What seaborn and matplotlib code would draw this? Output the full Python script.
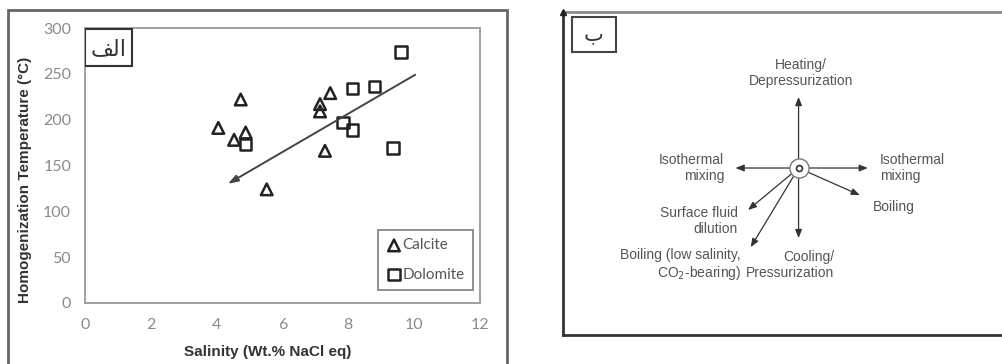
import matplotlib
matplotlib.use("Agg")
import matplotlib.pyplot as plt
import seaborn as sns
import pandas as pd
from matplotlib.patches import Rectangle

# ---------------- data ----------------
calcite_x = [4.05, 4.73, 4.53, 4.88, 5.52, 7.14, 7.14, 7.45, 7.29]
calcite_y = [191, 222, 178, 186, 124, 217, 209, 229, 166]
dolomite_x = [4.88, 7.83, 8.13, 8.13, 8.79, 9.35, 9.60]
dolomite_y = [173, 197, 189, 234, 236, 169, 274]
trend_start = (10.03, 249)
trend_end = (4.34, 130)
x_ticks = [0, 2, 4, 6, 8, 10, 12]
y_ticks = [0, 50, 100, 150, 200, 250, 300]

# conceptual diagram (panel b), unitless 0..1 space
center = (0.527, 0.517)
proc_labels = ["Heating/\nDepressurization", "Cooling/\nPressurization",
               "Isothermal\nmixing", "Isothermal\nmixing", "Boiling",
               "Surface fluid\ndilution", "Boiling (low salinity,\nCO$_2$-bearing)"]
proc_tip_x = [0.527, 0.527, 0.386, 0.682, 0.664, 0.414, 0.420]
proc_tip_y = [0.737, 0.300, 0.517, 0.517, 0.433, 0.387, 0.272]
proc_text_x = [0.532, 0.607, 0.361, 0.709, 0.693, 0.391, 0.398]
proc_text_y = [0.811, 0.217, 0.517, 0.517, 0.396, 0.353, 0.217]
proc_ha = ["center", "right", "right", "left", "left", "right", "right"]

panel_a_label = "\uFED2\uFEDF\uFE8D"   # "الف" (visual order, presentation forms)
panel_b_label = "ب"
xlabel = "Salinity (Wt.% NaCl eq)"
ylabel = "Homogenization Temperature (°C)"

# ---------------- style ----------------
sns.set_style("white")
plt.rcParams['font.family'] = ['Liberation Sans', 'DejaVu Sans']

W, H = 1003, 364
fig = plt.figure(figsize=(W / 100, H / 100), dpi=100)

def ax_rect(x0, y0, x1, y1):
    return [x0 / W, 1 - y1 / H, (x1 - x0) / W, (y1 - y0) / H]

# outer frame of panel a
fig.patches.append(Rectangle((8 / W, -0.05), (507 - 8) / W, 1.05 - 10 / H,
                             transform=fig.transFigure, fill=False,
                             edgecolor="#666666", lw=2.0))

# ---------------- panel a ----------------
ax = fig.add_axes(ax_rect(85, 28, 480, 303))
df_c = pd.DataFrame({"x": calcite_x, "y": calcite_y})
df_d = pd.DataFrame({"x": dolomite_x, "y": dolomite_y})
sns.scatterplot(data=df_c, x="x", y="y", ax=ax, marker="^", s=70,
                facecolor="none", edgecolor="#222222", linewidth=1.8,
                label="Calcite", zorder=3)
sns.scatterplot(data=df_d, x="x", y="y", ax=ax, marker="s", s=70,
                facecolor="none", edgecolor="#222222", linewidth=1.8,
                label="Dolomite", zorder=3)
ax.annotate("", xy=trend_end, xytext=trend_start,
            arrowprops=dict(arrowstyle="-|>,head_length=0.6,head_width=0.2",
                            color="#444444", lw=1.4, shrinkA=0, shrinkB=0))
ax.set_xlim(0, 12)
ax.set_ylim(0, 300)
ax.set_xticks(x_ticks)
ax.set_yticks(y_ticks)
ax.tick_params(axis="both", direction="inout", length=4, width=1,
               color="#999999", labelcolor="#8a8a8a", labelsize=11.5)
for lab in ax.get_xticklabels() + ax.get_yticklabels():
    lab.set_family("Lato")
ax.tick_params(axis="x", pad=9)
ax.tick_params(axis="y", pad=8)
for s in ax.spines.values():
    s.set_color("#a0a0a0")
    s.set_linewidth(1.4)
ax.set_xlabel(xlabel, fontsize=11, fontweight="bold", color="#333333")
ax.set_ylabel(ylabel, fontsize=11, fontweight="bold", color="#333333")
ax.xaxis.set_label_coords(0.463, -0.153)
ax.yaxis.set_label_coords(-0.134, 0.447)
leg = ax.legend(loc="lower right", bbox_to_anchor=(0.982, 0.047),
                frameon=True, fancybox=False, framealpha=1,
                edgecolor="#888888", fontsize=11, handletextpad=0.05,
                borderpad=0.55, labelspacing=1.0, handlelength=1.0,
                markerscale=1.0, borderaxespad=0)
leg.get_frame().set_linewidth(1.3)
for t in leg.get_texts():
    t.set_color("#555555")
    t.set_family("Lato")

ax.add_patch(Rectangle((0.0, 0.862), 0.119, 0.134, transform=ax.transAxes,
                       fill=False, edgecolor="#333333", lw=1.5, zorder=4))
ax.text(0.060, 0.925, panel_a_label, transform=ax.transAxes, ha="center",
        va="center", fontsize=16, color="#333333", family=["DejaVu Sans"])

# ---------------- panel b ----------------
bx = fig.add_axes(ax_rect(563, 12, 1010, 335))
bx.set_xlim(0, 1)
bx.set_ylim(0, 1)
bx.set_xticks([])
bx.set_yticks([])
for k in ["left", "bottom"]:
    bx.spines[k].set_color("#333333")
    bx.spines[k].set_linewidth(2.0)
bx.spines["top"].set_color("#8a8a8a")
bx.spines["top"].set_linewidth(2.0)
bx.spines["right"].set_visible(False)
bx.plot([0], [1.0], marker="^", color="#222222", markersize=5,
        clip_on=False, zorder=5)

for lab, tx, ty, px, py, ha in zip(proc_labels, proc_tip_x, proc_tip_y,
                                   proc_text_x, proc_text_y, proc_ha):
    bx.annotate("", xy=(tx, ty), xytext=center,
                arrowprops=dict(arrowstyle="-|>,head_length=0.5,head_width=0.2",
                                color="#333333", lw=0.9, shrinkA=6, shrinkB=0))
    bx.text(px, py, lab, ha=ha, va="center", multialignment=ha,
            fontsize=10, color="#555555", linespacing=1.15)

df_center = pd.DataFrame({"x": [center[0]], "y": [center[1]]})
sns.scatterplot(data=df_center, x="x", y="y", ax=bx, marker="o", s=190,
                facecolor="white", edgecolor="#777777", linewidth=1.0, zorder=4)
sns.scatterplot(data=df_center, x="x", y="y", ax=bx, marker="o", s=18,
                facecolor="white", edgecolor="#333333", linewidth=1.2, zorder=5)
bx.set_xlabel(xlabel, fontsize=11, fontweight="bold", color="#333333")
bx.set_ylabel(ylabel, fontsize=11, fontweight="bold", color="#333333")
bx.xaxis.set_label_coords(0.523, -0.053)
bx.yaxis.set_label_coords(-0.041, 0.51)

bx.add_patch(Rectangle((0.020, 0.876), 0.098, 0.109, transform=bx.transAxes,
                       fill=False, edgecolor="#444444", lw=1.5, zorder=4))
bx.text(0.069, 0.93, panel_b_label, transform=bx.transAxes, ha="center",
        va="center", fontsize=15, color="#333333", family=["DejaVu Sans"])

fig.savefig("out.png", dpi=100)
